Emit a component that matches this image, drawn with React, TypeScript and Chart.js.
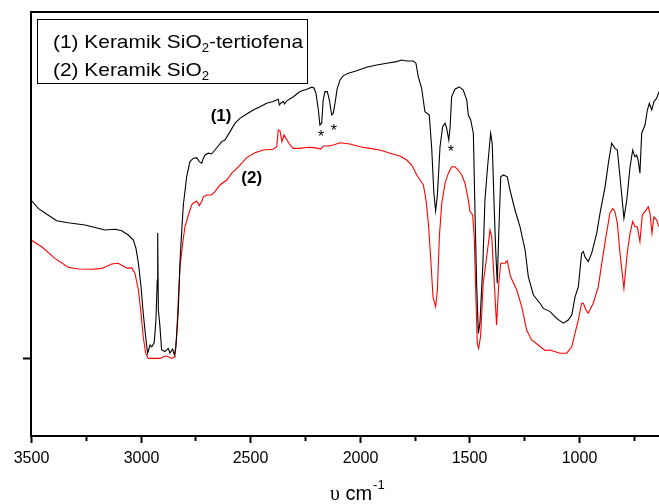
import React, { useEffect, useRef } from "react";
import { Chart, registerables } from "chart.js";

Chart.register(...registerables);

// Series (1) Keramik SiO2-tertiofena : wavenumber (cm-1) and transmittance (a.u.)
const WN1 = [3500, 3467, 3436, 3383, 3330, 3254, 3162, 3117, 3086, 3056, 3033, 3021, 3010, 2998, 2988, 2977, 2968, 2957, 2949, 2938, 2930, 2924, 2922, 2919, 2913, 2904, 2889, 2874, 2866, 2854, 2846, 2839, 2828, 2820, 2813, 2805, 2790, 2775, 2760, 2744, 2732, 2721, 2714, 2706, 2691, 2676, 2661, 2646, 2630, 2615, 2592, 2569, 2547, 2516, 2486, 2455, 2425, 2395, 2372, 2367, 2361, 2349, 2343, 2333, 2303, 2273, 2242, 2219, 2209, 2200, 2189, 2182, 2174, 2167, 2159, 2148, 2139, 2128, 2121, 2113, 2103, 2090, 2075, 2052, 2014, 1969, 1923, 1877, 1832, 1809, 1786, 1756, 1744, 1733, 1718, 1703, 1683, 1672, 1662, 1654, 1646, 1634, 1622, 1611, 1604, 1594, 1588, 1581, 1566, 1546, 1528, 1512, 1505, 1494, 1482, 1474, 1467, 1459, 1452, 1439, 1429, 1417, 1403, 1396, 1388, 1380, 1373, 1366, 1357, 1345, 1327, 1315, 1292, 1269, 1246, 1231, 1208, 1178, 1163, 1132, 1102, 1072, 1049, 1033, 1018, 1003, 988, 980, 973, 958, 942, 919, 904, 881, 866, 851, 836, 825, 813, 795, 782, 767, 755, 745, 737, 730, 722, 714, 699, 688, 679, 668, 658, 646, 635];
const T1 = [59.0, 56.9, 55.75, 53.8, 53.3, 52.75, 51.5, 51.7, 51.3, 50.25, 49, 46.9, 43.2, 37.3, 30.7, 24.8, 20.7, 22.75, 22.3, 23.3, 29, 39, 50.75, 31.5, 28.25, 21.5, 21.1, 21.9, 20.75, 21.75, 20.25, 22.3, 31.5, 44, 50.75, 57.75, 64.8, 68.6, 69.4, 69.6, 68.6, 68.2, 69.4, 70.25, 70.7, 70.5, 71.5, 72.5, 73.6, 74, 76.1, 78.2, 79.4, 80.5, 81.5, 82.3, 83.2, 83.6, 84.2, 82.75, 83.2, 83.6, 83, 83.8, 84.8, 86.1, 86.7, 87.2, 87, 85.7, 81.5, 77.75, 78.2, 84, 86.1, 86.1, 84, 80.25, 80.7, 83.2, 86.9, 89, 90.1, 90.7, 91.3, 92.2, 92.75, 93.2, 93.6, 94, 93.75, 93.75, 93.2, 89.8, 87, 81.1, 80.25, 72, 60.7, 56.25, 60.25, 72.3, 77.3, 78.2, 77, 74, 77.3, 84.8, 86.7, 87.3, 86.5, 84, 80.25, 79, 75.7, 54.8, 38.2, 25.7, 28.2, 42.3, 59, 67.3, 75.7, 73.2, 59, 46.5, 38.2, 50.7, 64.8, 65.25, 64.8, 61.5, 56.5, 52.3, 46.5, 39.8, 35.25, 33.2, 31.9, 31.1, 29.4, 28.2, 29, 30.25, 34.8, 37.3, 45.7, 46.1, 44.8, 43.6, 45.7, 50.7, 55.7, 62.3, 68.2, 73.2, 71.9, 71.5, 64.8, 54.4, 59, 67.3, 71.5, 69.8, 70.25, 69, 65.7, 75.7, 77.75, 81.5, 83.2, 81.5, 83.6, 84.4, 86.1];

// Series (2) Keramik SiO2
const WN2 = [3500, 3451, 3391, 3330, 3284, 3223, 3177, 3132, 3102, 3071, 3056, 3041, 3026, 3010, 2998, 2988, 2977, 2965, 2912, 2896, 2881, 2858, 2843, 2835, 2828, 2820, 2808, 2798, 2782, 2767, 2760, 2744, 2732, 2721, 2714, 2698, 2676, 2661, 2638, 2607, 2584, 2554, 2516, 2478, 2440, 2395, 2379, 2372, 2364, 2355, 2346, 2337, 2318, 2303, 2273, 2235, 2212, 2189, 2178, 2167, 2144, 2121, 2090, 2045, 1999, 1954, 1908, 1862, 1817, 1786, 1763, 1740, 1725, 1710, 1698, 1687, 1677, 1666, 1654, 1646, 1637, 1626, 1611, 1596, 1581, 1566, 1551, 1535, 1520, 1505, 1497, 1485, 1478, 1470, 1464, 1458, 1449, 1437, 1421, 1406, 1398, 1388, 1376, 1366, 1357, 1338, 1327, 1312, 1284, 1261, 1239, 1216, 1186, 1155, 1132, 1087, 1056, 1033, 1018, 1003, 988, 980, 968, 958, 935, 912, 896, 877, 859, 846, 836, 825, 813, 795, 780, 767, 755, 745, 734, 722, 711, 699, 684, 676, 667, 658, 646, 635];
const T2 = [49, 47.3, 44.4, 42.2, 41.75, 41.7, 41.9, 43, 43.2, 42.2, 41.9, 42.1, 40.7, 36.5, 30.7, 24.8, 20.7, 19.4, 19.4, 19.8, 20, 19.4, 19.8, 25.7, 34, 42.3, 48.2, 52.25, 55.25, 57.75, 58.2, 58.75, 57.6, 58.6, 59.8, 60.25, 60.25, 61.1, 62.75, 64, 65.7, 67.3, 69.6, 70.8, 71.5, 71.7, 72.3, 76.5, 76.3, 73.6, 75.25, 74.4, 72.75, 71.9, 71.9, 72.2, 72.1, 71.9, 71.7, 72.5, 72.5, 72.75, 73.3, 73, 72.3, 71.9, 71.5, 70.7, 70, 69, 67.75, 65.25, 64, 62.75, 59, 53.2, 44.8, 34.8, 32.3, 36.5, 49.8, 58.2, 63.2, 65.7, 67.3, 67.3, 66.5, 65.25, 63.2, 59, 56.1, 55.25, 49.8, 34, 23.2, 21.9, 24.8, 38.2, 44.8, 51.5, 49.8, 39.8, 27.75, 38.2, 43.2, 43.2, 43.8, 39.8, 36.5, 32.3, 26.5, 24, 22.75, 21.4, 21.5, 20.7, 20.7, 22.3, 25.7, 29, 33.2, 33.2, 31.5, 30.7, 33.2, 37.3, 43.2, 49.8, 55.7, 56.9, 56.1, 53.2, 45.7, 36.9, 45.7, 50.7, 53.6, 52.3, 52.3, 48.6, 55.25, 56.1, 57.3, 55.7, 50.7, 54.8, 54, 52.3];

const X_MAX = 3500;
const X_MIN = 635;
const Y_MIN = 0;
const Y_MAX = 106;
const X_TICKS = [3500, 3250, 3000, 2750, 2500, 2250, 2000, 1750, 1500, 1250, 1000, 750];
const X_LABELED = [3500, 3000, 2500, 2000, 1500, 1000];
const Y_TICK = 19.5;

const LEGEND_1 = ["(1) Keramik SiO", "2", "-tertiofena"];
const LEGEND_2 = ["(2) Keramik SiO", "2", ""];
const LABELS = [
  { text: "(1)", x: 2633, y: 80, bold: true },
  { text: "(2)", x: 2493, y: 64.5, bold: true },
  { text: "*", x: 2177, y: 75.25, bold: false },
  { text: "*", x: 2118, y: 76.9, bold: false },
  { text: "*", x: 1584, y: 71.5, bold: false },
];

const SANS = '"Liberation Sans", Arial, sans-serif';

const framePlugin = {
  id: "frame",
  afterDraw(chart: any) {
    const ctx = chart.ctx as CanvasRenderingContext2D;
    const a = chart.chartArea;
    const xs = chart.scales.x;
    const ys = chart.scales.y;
    const W = chart.width;
    ctx.save();
    ctx.strokeStyle = "#000";
    ctx.fillStyle = "#000";
    ctx.lineCap = "butt";
    const line = (x1: number, y1: number, x2: number, y2: number, w: number) => {
      ctx.lineWidth = w;
      ctx.beginPath();
      ctx.moveTo(x1, y1);
      ctx.lineTo(x2, y2);
      ctx.stroke();
    };
    // frame
    line(a.left - 1, a.top, W, a.top, 2);
    line(a.left, a.top - 1, a.left, a.bottom + 1, 2);
    line(a.left - 1, a.bottom, W, a.bottom, 2);
    // x ticks
    ctx.font = `16px ${SANS}`;
    ctx.textAlign = "center";
    ctx.textBaseline = "middle";
    for (const t of X_TICKS) {
      const px = Math.round(xs.getPixelForValue(t)) + 0.5;
      const major = X_LABELED.includes(t);
      line(px, a.bottom, px, a.bottom + (major ? 7 : 5), 2);
      if (major) ctx.fillText(String(t), px, 458.5);
    }
    // y tick
    const py = Math.round(ys.getPixelForValue(Y_TICK)) + 0.5;
    line(a.left - 8, py, a.left, py, 2);

    // x title: υ cm-1
    ctx.textAlign = "left";
    ctx.textBaseline = "alphabetic";
    ctx.font = `20px "Liberation Serif", serif`;
    let x0 = 330;
    ctx.fillText("υ", x0, 500);
    x0 += ctx.measureText("υ").width;
    ctx.font = `20px ${SANS}`;
    ctx.fillText(" cm", x0, 500);
    x0 += ctx.measureText(" cm").width;
    ctx.font = `13px ${SANS}`;
    ctx.fillText("-1", x0 + 1, 489);

    // legend box
    ctx.lineWidth = 1;
    ctx.strokeRect(37.5, 19.5, 270, 64);
    const SX = 1.1;
    const drawEntry = (parts: string[], baseline: number) => {
      ctx.save();
      ctx.translate(53, 0);
      ctx.scale(SX, 1);
      let xx = 0;
      ctx.font = `19px ${SANS}`;
      ctx.fillText(parts[0], xx, baseline);
      xx += ctx.measureText(parts[0]).width;
      ctx.font = `12px ${SANS}`;
      ctx.fillText(parts[1], xx, baseline + 4);
      xx += ctx.measureText(parts[1]).width;
      ctx.font = `19px ${SANS}`;
      ctx.fillText(parts[2], xx, baseline);
      ctx.restore();
    };
    drawEntry(LEGEND_1, 47.5);
    drawEntry(LEGEND_2, 76);

    // annotations
    ctx.textAlign = "center";
    ctx.textBaseline = "middle";
    for (const l of LABELS) {
      ctx.font = l.bold ? `bold 17px ${SANS}` : `16px ${SANS}`;
      const lx = xs.getPixelForValue(l.x);
      const ly = ys.getPixelForValue(l.y);
      ctx.fillText(l.text, lx, l.bold ? ly : ly + 3);
    }
    ctx.restore();
  },
};

export default function App() {
  const ref = useRef<HTMLCanvasElement | null>(null);
  useEffect(() => {
    if (!ref.current) return;
    const chart = new Chart(ref.current, {
      type: "line",
      data: {
        datasets: [
          {
            label: "(1) Keramik SiO2-tertiofena",
            data: WN1.map((x, i) => ({ x, y: T1[i] })),
            borderColor: "#000000",
            borderWidth: 1.1,
            pointRadius: 0,
            tension: 0,
            fill: false,
          },
          {
            label: "(2) Keramik SiO2",
            data: WN2.map((x, i) => ({ x, y: T2[i] })),
            borderColor: "#ff0000",
            borderWidth: 1.1,
            pointRadius: 0,
            tension: 0,
            fill: false,
          },
        ],
      },
      options: {
        responsive: false,
        animation: false,
        devicePixelRatio: 1,
        layout: { padding: { left: 31, top: 12, right: 0, bottom: 68 } },
        plugins: { legend: { display: false }, tooltip: { enabled: false } },
        scales: {
          x: { type: "linear", reverse: true, min: X_MIN, max: X_MAX, display: false },
          y: { type: "linear", min: Y_MIN, max: Y_MAX, display: false },
        },
      },
      plugins: [framePlugin],
    });
    return () => chart.destroy();
  }, []);
  return (
    <div style={{ position: "absolute", left: 0, top: 0, width: 659, height: 504, background: "#fff" }}>
      <canvas ref={ref} width={659} height={504} style={{ display: "block" }} />
    </div>
  );
}
